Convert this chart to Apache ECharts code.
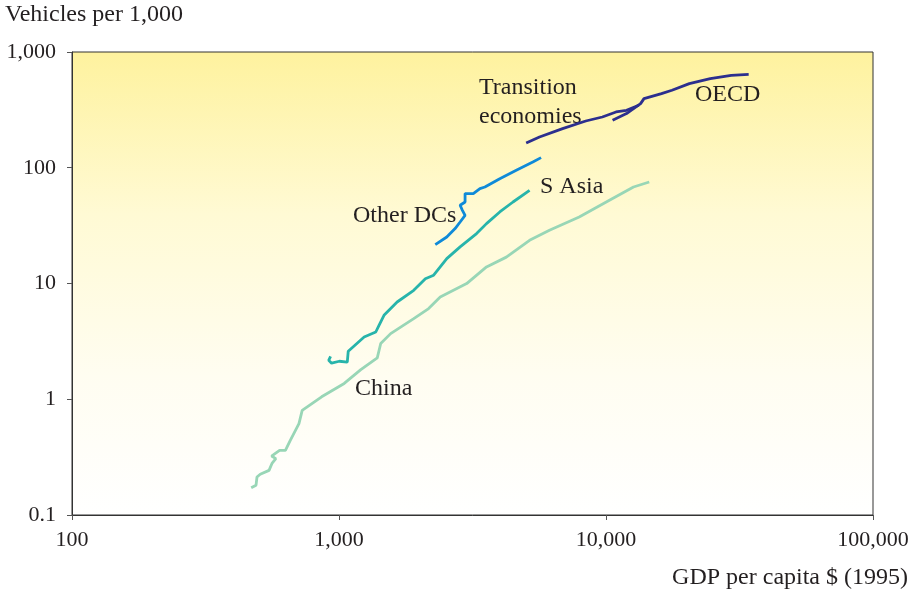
<!DOCTYPE html>
<html>
<head>
<meta charset="utf-8">
<script src="https://cdn.jsdelivr.net/npm/echarts@6/dist/echarts.min.js"></script>
<style>
  html, body { margin: 0; padding: 0; background: #ffffff; }
  #chart { width: 915px; height: 599px; }
</style>
</head>
<body>
<div id="chart"></div>
<script>
// Vehicle ownership vs GDP per capita, log-log trajectories by region

// China
var chinaGdp = [469, 489, 493, 507, 547, 562, 580, 559, 599, 630, 657, 708, 728, 861, 1046, 1207, 1391, 1433, 1561, 1905, 2166, 2394, 3007, 3568, 4234, 5173, 6140, 7937, 10585, 12678, 14520];
var chinaVeh = [0.172, 0.181, 0.213, 0.225, 0.243, 0.281, 0.307, 0.323, 0.362, 0.362, 0.442, 0.616, 0.802, 1.05, 1.37, 1.80, 2.28, 3.03, 3.69, 4.97, 6.07, 7.64, 9.98, 13.9, 16.9, 23.6, 28.8, 37.6, 54.2, 68.2, 75.3];

// South Asia
var sAsiaGdp = [930, 915, 938, 1003, 1074, 1083, 1242, 1373, 1412, 1474, 1651, 1905, 2106, 2262, 2533, 2842, 3275, 3568, 4001, 4484, 5173];
var sAsiaVeh = [2.35, 2.17, 2.05, 2.13, 2.09, 2.60, 3.45, 3.81, 4.35, 5.31, 6.92, 8.74, 11.0, 11.8, 16.4, 20.7, 27.0, 32.9, 41.5, 50.6, 63.8];

// Other developing countries
var otherGdp = [2294, 2533, 2722, 2842, 2966, 2899, 2842, 2966, 2966, 3184, 3372, 3519, 3568, 4001, 4613, 5321, 5713];
var otherVeh = [21.7, 25.2, 29.8, 34.0, 38.8, 42.9, 47.4, 50.6, 59.8, 59.8, 66.1, 68.2, 70.5, 80.5, 95.1, 112.1, 122.3];

// Transition economies
var transGdp = [5024, 5635, 6878, 8398, 9689, 10905, 11935, 13267];
var transVeh = [163.6, 184.4, 218, 253.5, 274.5, 303.2, 313.6, 346.3];

// OECD
var oecdGdp = [10585, 11935, 13475, 13876, 16137, 17663, 20518, 24582, 29444, 34227];
var oecdVeh = [257, 293.6, 358, 395.7, 437, 466.9, 533.3, 589, 629, 642];

var xTicks = [100, 1000, 10000, 100000];
var yTicks = [0.1, 1, 10, 100, 1000];

function pairs(xs, ys) {
  return xs.map(function (x, i) { return [x, ys[i]]; });
}

function fmt(v) {
  if (v >= 1) return Math.round(v).toLocaleString('en-US');
  return String(+v.toPrecision(2));
}

var serif = "'Liberation Serif', 'Times New Roman', serif";
var ink = '#231f20';
var textFont = '24px ' + serif;

var seriesDefs = [
  { name: 'China', xs: chinaGdp, ys: chinaVeh, color: '#98d6b6' },
  { name: 'S Asia', xs: sAsiaGdp, ys: sAsiaVeh, color: '#27b4ab' },
  { name: 'Other DCs', xs: otherGdp, ys: otherVeh, color: '#0f8ad8' },
  { name: 'Transition economies', xs: transGdp, ys: transVeh, color: '#2c2f8e' },
  { name: 'OECD', xs: oecdGdp, ys: oecdVeh, color: '#2c2f8e' }
];

var chart = echarts.init(document.getElementById('chart'), null, { renderer: 'canvas' });

chart.setOption({
  animation: false,
  backgroundColor: '#ffffff',
  grid: {
    left: 72, right: 42, top: 52, bottom: 84,
    show: true,
    borderColor: '#333333',
    borderWidth: 1,
    backgroundColor: new echarts.graphic.LinearGradient(0, 0, 0, 1, [
      { offset: 0, color: '#fef29e' },
      { offset: 0.35, color: '#fffad4' },
      { offset: 0.7, color: '#fffdf1' },
      { offset: 1, color: '#ffffff' }
    ])
  },
  xAxis: {
    type: 'log',
    logBase: 10,
    min: xTicks[0],
    max: xTicks[xTicks.length - 1],
    axisLine: { show: true, lineStyle: { color: '#333333', width: 1 } },
    axisTick: { show: true, inside: false, length: 5, lineStyle: { color: '#555555' } },
    axisLabel: { fontFamily: serif, fontSize: 22, color: ink, margin: 14, formatter: fmt },
    splitLine: { show: false },
    minorTick: { show: false }
  },
  yAxis: {
    type: 'log',
    logBase: 10,
    min: yTicks[0],
    max: yTicks[yTicks.length - 1],
    axisLine: { show: true, lineStyle: { color: '#333333', width: 1 } },
    axisTick: { show: true, inside: false, length: 5, lineStyle: { color: '#555555' } },
    axisLabel: { fontFamily: serif, fontSize: 22, color: ink, margin: 16, formatter: fmt },
    splitLine: { show: false },
    minorTick: { show: false }
  },
  series: seriesDefs.map(function (s) {
    return {
      name: s.name,
      type: 'line',
      data: pairs(s.xs, s.ys),
      showSymbol: false,
      smooth: false,
      lineStyle: { color: s.color, width: 2.8 },
      itemStyle: { color: s.color },
      silent: true
    };
  }),
  graphic: [
    { type: 'text', left: 5, top: 3, style: { text: 'Vehicles per 1,000', font: textFont, fill: ink } },
    { type: 'text', right: 7, top: 566, style: { text: 'GDP per capita $ (1995)', font: textFont, fill: ink } },
    { type: 'text', left: 479, top: 73, style: { text: 'Transition\neconomies', font: textFont, fill: ink, lineHeight: 29 } },
    { type: 'text', left: 695, top: 83, style: { text: 'OECD', font: textFont, fill: ink } },
    { type: 'text', left: 353, top: 204, style: { text: 'Other DCs', font: textFont, fill: ink } },
    { type: 'text', left: 540, top: 175, style: { text: 'S Asia', font: textFont, fill: ink } },
    { type: 'text', left: 355, top: 377, style: { text: 'China', font: textFont, fill: ink } }
  ]
});
</script>
</body>
</html>
